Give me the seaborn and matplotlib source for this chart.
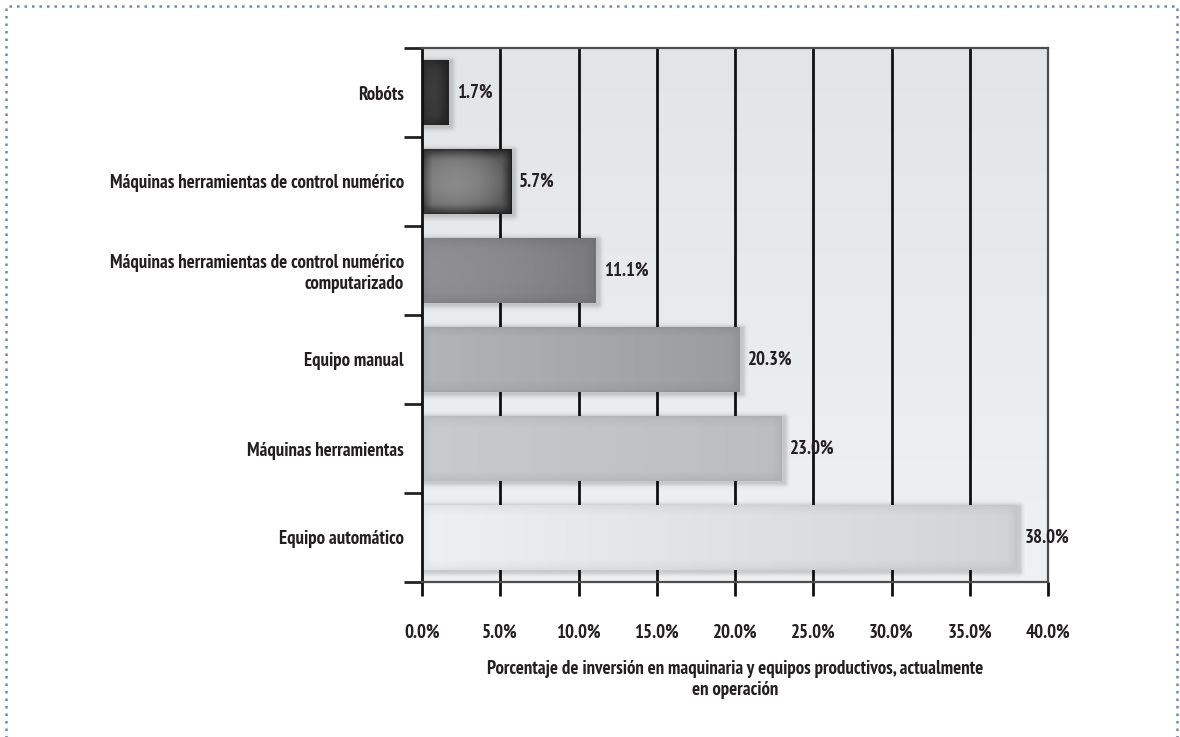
import numpy as np
import pandas as pd
import matplotlib
matplotlib.use("Agg")
import matplotlib.pyplot as plt
from matplotlib import font_manager
from matplotlib.patches import Rectangle
from matplotlib.colors import to_rgb
import seaborn as sns

# Data
categories = [
    "Robóts",
    "Máquinas herramientas de control numérico",
    "Máquinas herramientas de control numérico\ncomputarizado",
    "Equipo manual",
    "Máquinas herramientas",
    "Equipo automático",
]
values = [1.7, 5.7, 11.1, 20.3, 23.0, 38.0]
xticks = [0, 5, 10, 15, 20, 25, 30, 35, 40]
xlabel = "Porcentaje de inversión en maquinaria y equipos productivos, actualmente\nen operación"

# Bar styling: mean fill, left/right tones, edge darkening, centre glow
bar_colors = ["#333333", "#5c5c5c", "#858587", "#a7a8aa", "#c3c4c6", "#e0e1e3"]
left_tones = ["#383838", "#666666", "#8e8e90", "#b3b4b6", "#c9cacc", "#eff0f2"]
right_tones = ["#2e2e2e", "#585858", "#7b7b7d", "#9b9c9e", "#bcbdbf", "#d2d3d5"]
edge_dark = [0.05, 0.22, 0.04, 0.05, 0.05, 0.05]
centre_glow = [0.03, 0.16, 0.02, 0.0, 0.0, 0.0]

sns.set_theme(style="white")
available = {f.name for f in font_manager.fontManager.ttflist}
family = "DejaVu Sans"
for cand in ["PT Sans Narrow", "Roboto Condensed", "Asap Condensed",
             "Barlow Semi Condensed", "Archivo Narrow"]:
    if cand in available:
        family = cand
        break
plt.rcParams["font.family"] = [family, "DejaVu Sans"]

W, H = 1180, 737
fig = plt.figure(figsize=(W / 100, H / 100), dpi=100)

# choose a font size so the longest single-line label spans about 293 px
probe = fig.text(0, 0, categories[1], fontsize=12, fontweight="bold")
fig.canvas.draw()
pw = probe.get_window_extent().width
probe.remove()
fs = 12 * 293 / pw

ax = fig.add_axes([422 / W, 1 - 582 / H, (1048 - 422) / W, (582 - 48) / H])

df = pd.DataFrame({"cat": categories, "pct": values})
sns.barplot(data=df, x="pct", y="cat", orient="h", ax=ax,
            palette=bar_colors, hue="cat", legend=False,
            width=0.72, saturation=1, linewidth=0, zorder=3)

XMAX = 40
ax.set_xlim(0, XMAX)
ax.set_ylim(5.5, -0.5)
px_x = XMAX / (1048 - 422)      # data units per pixel, horizontal
px_y = 6 / (582 - 48)           # data units per pixel, vertical

# vertical gradient background of the plot area
t = np.linspace(0, 1, 256)[:, None, None]
top_c = np.array(to_rgb("#e3e4e6"))
bot_c = np.array(to_rgb("#f0f1f3"))
bg_img = top_c * (1 - t) + bot_c * t
ax.imshow(np.repeat(bg_img, 2, axis=1), extent=(0, XMAX, 5.5, -0.5),
          aspect="auto", zorder=0, interpolation="bilinear")


def smooth_edge(d, width):
    return np.clip(d / width, 0, 1) ** 0.7


for i, patch in enumerate(ax.patches):
    x0, y0 = patch.get_x(), patch.get_y()
    w, h = patch.get_width(), patch.get_height()
    wpx, hpx = w / px_x, h / px_y
    nx, ny = max(int(wpx), 8), max(int(hpx), 8)
    xx = np.linspace(0, 1, nx)[None, :]
    yy = np.linspace(0, 1, ny)[:, None]
    L = np.array(to_rgb(left_tones[i]))
    R = np.array(to_rgb(right_tones[i]))
    base = L * (1 - xx[..., None]) + R * xx[..., None]
    dx = np.minimum(xx, 1 - xx) * wpx
    dy = np.minimum(yy, 1 - yy) * hpx
    vign = smooth_edge(dx, 10) * smooth_edge(dy, 10)
    cx = (xx - 0.42) / 0.55
    cy = (yy - 0.5) / 0.55
    glow = np.clip(1 - (cx ** 2 + cy ** 2), 0, 1)
    img = base - edge_dark[i] * (1 - vign)[..., None] + centre_glow[i] * glow[..., None]
    img = np.clip(img, 0, 1)
    im = ax.imshow(img, extent=(x0, x0 + w, y0 + h, y0), aspect="auto",
                   zorder=3.5, interpolation="bilinear")
    im.set_clip_path(patch)

    # soft drop shadow around the bar
    pad = 8
    sx0, sx1 = x0 - pad * px_x, x0 + w + pad * px_x
    sy0, sy1 = y0 - pad * px_y, y0 + h + pad * px_y
    snx, sny = int(wpx + 2 * pad), int(hpx + 2 * pad)
    gx = np.arange(snx)[None, :] - pad - 1
    gy = np.arange(sny)[:, None] - pad - 1
    ddx = np.maximum(np.maximum(-gx, gx - wpx), 0)
    ddy = np.maximum(np.maximum(-gy, gy - hpx), 0)
    dist = np.sqrt(ddx ** 2 + ddy ** 2)
    alpha = 0.16 * np.exp(-(dist / 3.5) ** 2)
    shadow = np.zeros((sny, snx, 4))
    shadow[..., 3] = alpha
    ax.imshow(shadow, extent=(sx0, sx1, sy1, sy0), aspect="auto",
              zorder=2.8, interpolation="bilinear")

    ax.annotate(f"{values[i]:.1f}%", xy=(x0 + w, y0 + h / 2), xytext=(8, 0),
                textcoords="offset pixels", va="center", ha="left",
                fontsize=fs, fontweight="bold", color="#231f20", zorder=5)

ax.set_xlim(0, XMAX)
ax.set_ylim(5.5, -0.5)

# vertical grid lines
for xv in xticks[1:-1]:
    ax.axvline(xv, color="#111111", lw=2, zorder=1)

ax.set_xticks(xticks)
ax.set_xticklabels([f"{v:.1f}%" for v in xticks], fontsize=fs,
                   fontweight="bold", color="#231f20")
ax.tick_params(axis="x", direction="out", length=10, width=2, color="#111111",
               pad=20, bottom=True)
ax.set_yticks(range(len(categories)))
ax.set_yticklabels(categories, fontsize=fs, fontweight="bold",
                   color="#231f20", ha="right")
ax.tick_params(axis="y", which="major", length=0, pad=13)
ax.set_yticks(np.arange(-0.5, 6.0, 1.0), minor=True)
ax.tick_params(axis="y", which="minor", length=13, width=2, color="#222222",
               left=True)
for lab in ax.get_yticklabels():
    lab.set_linespacing(1.15)

ax.set_xlabel(xlabel, fontsize=fs, fontweight="bold", color="#231f20",
              labelpad=13, linespacing=1.2)
ax.set_ylabel("")

for side in ["top", "right", "bottom"]:
    ax.spines[side].set_color("#4d4d4d")
    ax.spines[side].set_linewidth(1.6)
ax.spines["left"].set_color("#111111")
ax.spines["left"].set_linewidth(2)
for s in ax.spines.values():
    s.set_zorder(4)

# dotted frame around the figure
frame = Rectangle((6 / W, -0.05), 1171 / W, 1.05 - 6 / H,
                  transform=fig.transFigure, fill=False, edgecolor="#7884b6",
                  linestyle=(0, (1, 2)), lw=1.8)
fig.add_artist(frame)

fig.savefig("out.png", dpi=100, facecolor="white")
